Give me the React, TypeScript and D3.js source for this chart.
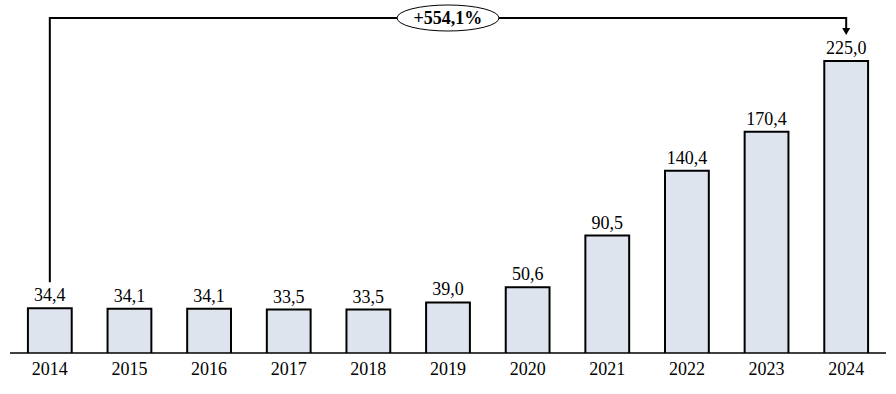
import React, { useEffect, useRef } from 'react';
import * as d3 from 'd3';

// Yearly values (comma decimal labels)
const years = ['2014', '2015', '2016', '2017', '2018', '2019', '2020', '2021', '2022', '2023', '2024'];
const values = [34.4, 34.1, 34.1, 33.5, 33.5, 39.0, 50.6, 90.5, 140.4, 170.4, 225.0];

const fmt = (v: number) => v.toFixed(1).replace('.', ',');

export default function App() {
    const svgRef = useRef<SVGSVGElement>(null);

    useEffect(() => {
        if (!svgRef.current) return;

        const width = 896;
        const height = 394;
        const baseY = 353;
        const font = '"Liberation Serif", "Times New Roman", serif';

        const svg = d3.select(svgRef.current)
            .attr('width', width)
            .attr('height', height);

        svg.selectAll('*').remove();

        const x = d3.scaleBand<string>()
            .domain(years)
            .range([10, 886])
            .paddingInner(0.45)
            .paddingOuter(0.225);

        const y = d3.scaleLinear()
            .domain([0, d3.max(values) || 1])
            .range([baseY, 61]);

        const rows = years.map((yr, i) => ({ yr, v: values[i] }));

        // Bars (open at the bottom, baseline closes them)
        const bars = svg.append('g');
        bars.selectAll('rect')
            .data(rows)
            .enter()
            .append('rect')
            .attr('x', d => x(d.yr)!)
            .attr('y', d => y(d.v))
            .attr('width', x.bandwidth())
            .attr('height', d => baseY - y(d.v))
            .attr('fill', '#dee4ed');

        bars.selectAll('path')
            .data(rows)
            .enter()
            .append('path')
            .attr('d', d => {
                const x0 = x(d.yr)!;
                const x1 = x0 + x.bandwidth();
                return `M${x0},${baseY}V${y(d.v)}H${x1}V${baseY}`;
            })
            .attr('fill', 'none')
            .attr('stroke', '#000')
            .attr('stroke-width', 2);

        // Baseline
        svg.append('line')
            .attr('x1', 10).attr('x2', 886)
            .attr('y1', baseY).attr('y2', baseY)
            .attr('stroke', '#000')
            .attr('stroke-width', 1.5);

        // Value labels
        svg.selectAll('text.val')
            .data(rows)
            .enter()
            .append('text')
            .attr('class', 'val')
            .attr('x', d => x(d.yr)! + x.bandwidth() / 2)
            .attr('y', d => y(d.v) - 7)
            .attr('text-anchor', 'middle')
            .attr('font-family', font)
            .attr('font-size', '18px')
            .text(d => fmt(d.v));

        // Year labels
        svg.selectAll('text.yr')
            .data(rows)
            .enter()
            .append('text')
            .attr('class', 'yr')
            .attr('x', d => x(d.yr)! + x.bandwidth() / 2)
            .attr('y', 375)
            .attr('text-anchor', 'middle')
            .attr('font-family', font)
            .attr('font-size', '18px')
            .text(d => d.yr);

        // Growth bracket
        const first = rows[0];
        const last = rows[rows.length - 1];
        const xa = x(first.yr)! + x.bandwidth() / 2;
        const xb = x(last.yr)! + x.bandwidth() / 2;
        const topY = 18;
        const leftEnd = y(first.v) - 26;
        const tipY = y(last.v) - 26;

        svg.append('path')
            .attr('d', `M${xa},${leftEnd}V${topY}H${xb}V${tipY - 6}`)
            .attr('fill', 'none')
            .attr('stroke', '#000')
            .attr('stroke-width', 2);

        svg.append('path')
            .attr('d', `M${xb - 4},${tipY - 7}L${xb + 4},${tipY - 7}L${xb},${tipY}Z`)
            .attr('fill', '#000');

        const pct = (last.v / first.v - 1) * 100;
        const cx = (xa + xb) / 2;
        svg.append('ellipse')
            .attr('cx', cx).attr('cy', topY)
            .attr('rx', 51).attr('ry', 13)
            .attr('fill', '#fff')
            .attr('stroke', '#000')
            .attr('stroke-width', 1);

        svg.append('text')
            .attr('x', cx)
            .attr('y', topY + 6)
            .attr('text-anchor', 'middle')
            .attr('font-family', font)
            .attr('font-size', '18px')
            .attr('font-weight', 'bold')
            .text(`+${fmt(pct)}%`);
    }, []);

    return (
        <div style={{ position: 'fixed', left: 0, top: 0, background: '#fff' }}>
            <svg ref={svgRef} style={{ display: 'block' }}></svg>
        </div>
    );
}
